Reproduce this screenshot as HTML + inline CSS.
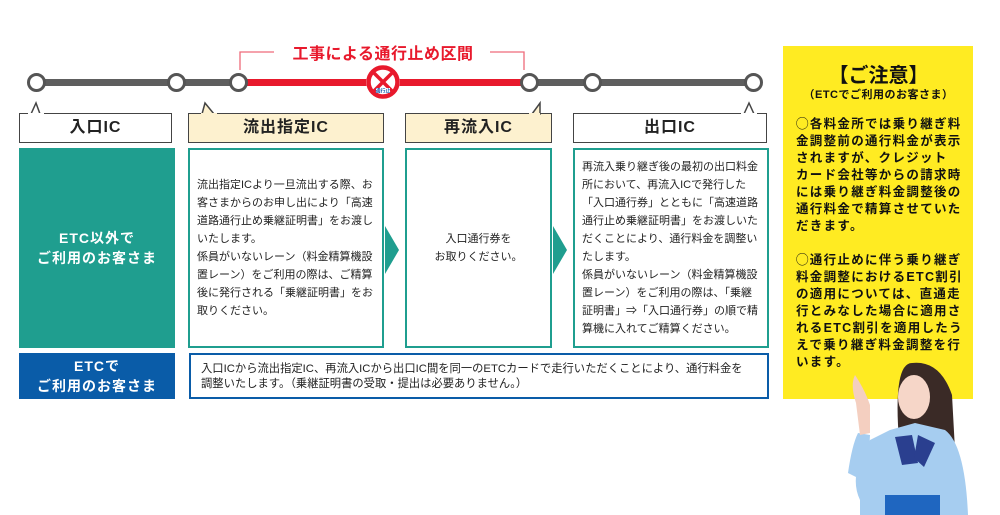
<!DOCTYPE html>
<html><head><meta charset="utf-8"><style>
*{margin:0;padding:0;box-sizing:border-box}
body{width:1000px;height:515px;background:#fff;position:relative;overflow:hidden;font-family:"Liberation Sans","Noto Sans CJK JP",sans-serif;color:#222}
.a{position:absolute}
.lbl{position:absolute;top:113px;height:30px;border:1.5px solid #444;font-weight:bold;font-size:16px;text-align:center;line-height:27px;letter-spacing:1px}
.box{position:absolute;top:148px;height:200px;border:2px solid #1f9e8f;font-size:11px;line-height:18px;display:flex;align-items:center;padding:0 7px}
.chev{position:absolute;top:226px;width:14px;height:48px;background:#1f9e8f;clip-path:polygon(0 0,100% 50%,0 100%)}
.c{position:absolute;top:73px;width:19px;height:19px;border-radius:50%;border:3px solid #555;background:#fff}
.y{font-size:12.5px;line-height:17px;letter-spacing:1.3px;white-space:nowrap}
</style></head><body>
<div class="a" style="left:37px;top:79px;width:201px;height:7px;background:#5e5e5e"></div>
<div class="a" style="left:238px;top:79px;width:290px;height:7px;background:#e8192c"></div>
<div class="a" style="left:528px;top:79px;width:224px;height:7px;background:#5e5e5e"></div>
<div class="c" style="left:27px"></div><div class="c" style="left:167px"></div><div class="c" style="left:229px"></div><div class="c" style="left:520px"></div><div class="c" style="left:583px"></div><div class="c" style="left:744px"></div>
<svg class="a" style="left:0;top:0" width="780" height="110">
<polyline points="240,70 240,52 274,52" fill="none" stroke="#ef6a7a" stroke-width="1.3"/>
<polyline points="490,52 524,52 524,70" fill="none" stroke="#ef6a7a" stroke-width="1.3"/>
<circle cx="383" cy="82" r="17" fill="#fff"/>
<circle cx="383" cy="82" r="14.5" fill="#fff" stroke="#e8192c" stroke-width="4.5"/>
<line x1="374" y1="73" x2="392" y2="91" stroke="#e8192c" stroke-width="3.5"/>
<line x1="392" y1="73" x2="374" y2="91" stroke="#e8192c" stroke-width="3.5"/>
<rect x="376" y="88" width="14" height="5" fill="#fff"/>
<text x="383" y="92.5" font-size="5" fill="#1d5fb0" text-anchor="middle" font-weight="bold">通行止</text>
</svg>
<div class="a" style="left:278px;top:40px;width:210px;text-align:center;color:#e8192c;font-weight:bold;font-size:16px;letter-spacing:.5px">工事による通行止め区間</div>
<div class="lbl" style="left:19px;width:153px;background:#fff">入口IC</div>
<div class="lbl" style="left:188px;width:196px;background:#fdf1cf">流出指定IC</div>
<div class="lbl" style="left:405px;width:147px;background:#fdf1cf">再流入IC</div>
<div class="lbl" style="left:573px;width:194px;background:#fff">出口IC</div>
<svg class="a" style="left:0;top:95px" width="780" height="20">
<polygon points="31,19 36,8 40,19" fill="#fff" stroke="#444" stroke-width="1.5"/>
<polygon points="202,19 205,8 214,19" fill="#fdf1cf" stroke="#444" stroke-width="1.5"/>
<polygon points="532,19 540,8 540,19" fill="#fdf1cf" stroke="#444" stroke-width="1.5"/>
<polygon points="744,19 749,8 754,19" fill="#fff" stroke="#444" stroke-width="1.5"/>
<rect x="28" y="18" width="16" height="3" fill="#fff"/>
<rect x="201" y="18" width="16" height="3" fill="#fdf1cf"/>
<rect x="529" y="18" width="11" height="3" fill="#fdf1cf"/>
<rect x="741" y="18" width="16" height="3" fill="#fff"/>
</svg>
<div class="a" style="left:19px;top:148px;width:156px;height:200px;background:#1f9e8f;color:#fff;font-weight:bold;font-size:14px;line-height:20px;display:flex;align-items:center;justify-content:center;text-align:center;letter-spacing:1px">ETC以外で<br>ご利用のお客さま</div>
<div class="a" style="left:19px;top:353px;width:156px;height:46px;background:#0a5ca8;color:#fff;font-weight:bold;font-size:14px;line-height:20px;display:flex;align-items:center;justify-content:center;text-align:center;letter-spacing:1px">ETCで<br>ご利用のお客さま</div>
<div class="box" style="left:188px;width:196px">流出指定ICより一旦流出する際、お客さまからのお申し出により「高速道路通行止め乗継証明書」をお渡しいたします。<br>係員がいないレーン（料金精算機設置レーン）をご利用の際は、ご精算後に発行される「乗継証明書」をお取りください。</div>
<div class="chev" style="left:385px"></div>
<div class="box" style="left:405px;width:147px;justify-content:center;text-align:center">入口通行券を<br>お取りください。</div>
<div class="chev" style="left:553px"></div>
<div class="box" style="left:573px;width:196px">再流入乗り継ぎ後の最初の出口料金所において、再流入ICで発行した「入口通行券」とともに「高速道路通行止め乗継証明書」をお渡しいただくことにより、通行料金を調整いたします。<br>係員がいないレーン（料金精算機設置レーン）をご利用の際は、「乗継証明書」⇒「入口通行券」の順で精算機に入れてご精算ください。</div>
<div class="a" style="left:189px;top:353px;width:580px;height:46px;border:2px solid #0a5ca8;font-size:11.3px;line-height:15px;padding:7px 10px;white-space:nowrap">入口ICから流出指定IC、再流入ICから出口IC間を同一のETCカードで走行いただくことにより、通行料金を<br>調整いたします。（乗継証明書の受取・提出は必要ありません。）</div>
<div class="a" style="left:783px;top:46px;width:190px;height:353px;background:#ffeb22;padding:18px 6px 0 13px;font-weight:bold;color:#111">
<div style="text-align:center;font-size:20px;line-height:24px;padding-right:6px">【ご注意】</div>
<div style="text-align:center;font-size:11px;line-height:14px;letter-spacing:.5px;padding-right:6px">（ETCでご利用のお客さま）</div>
<div class="y" style="margin-top:14px">◯各料金所では乗り継ぎ料<br>金調整前の通行料金が表示<br>されますが、クレジット<br>カード会社等からの請求時<br>には乗り継ぎ料金調整後の<br>通行料金で精算させていた<br>だきます。</div>
<div class="y" style="margin-top:17px">◯通行止めに伴う乗り継ぎ<br>料金調整におけるETC割引<br>の適用については、直通走<br>行とみなした場合に適用さ<br>れるETC割引を適用したう<br>えで乗り継ぎ料金調整を行<br>います。</div>
</div>
<svg class="a" style="left:840px;top:355px" width="160" height="160">
<path d="M58,70 Q55,8 72,8 Q100,5 112,40 L115,95 L60,100 Z" fill="#3a2a26"/>
<ellipse cx="74" cy="42" rx="16" ry="22" fill="#f6d6c8"/>
<path d="M20,145 Q8,120 30,85 L50,75 L75,68 L105,75 Q125,90 128,160 L20,160 Z" fill="#a6cdf0"/>
<path d="M8,118 Q12,90 18,78 L30,80 Q28,110 32,130 Z" fill="#a6cdf0"/>
<path d="M16,48 Q10,30 15,20 Q25,35 30,50 L30,78 L20,80 Z" fill="#f4cfc0"/>
<path d="M55,82 L72,80 L78,108 L62,110 Z" fill="#2a3f8f"/>
<path d="M78,80 L95,88 L84,112 L74,103 Z" fill="#2a3f8f"/>
<rect x="45" y="140" width="55" height="20" fill="#1f66c0"/>
</svg>
</body></html>
